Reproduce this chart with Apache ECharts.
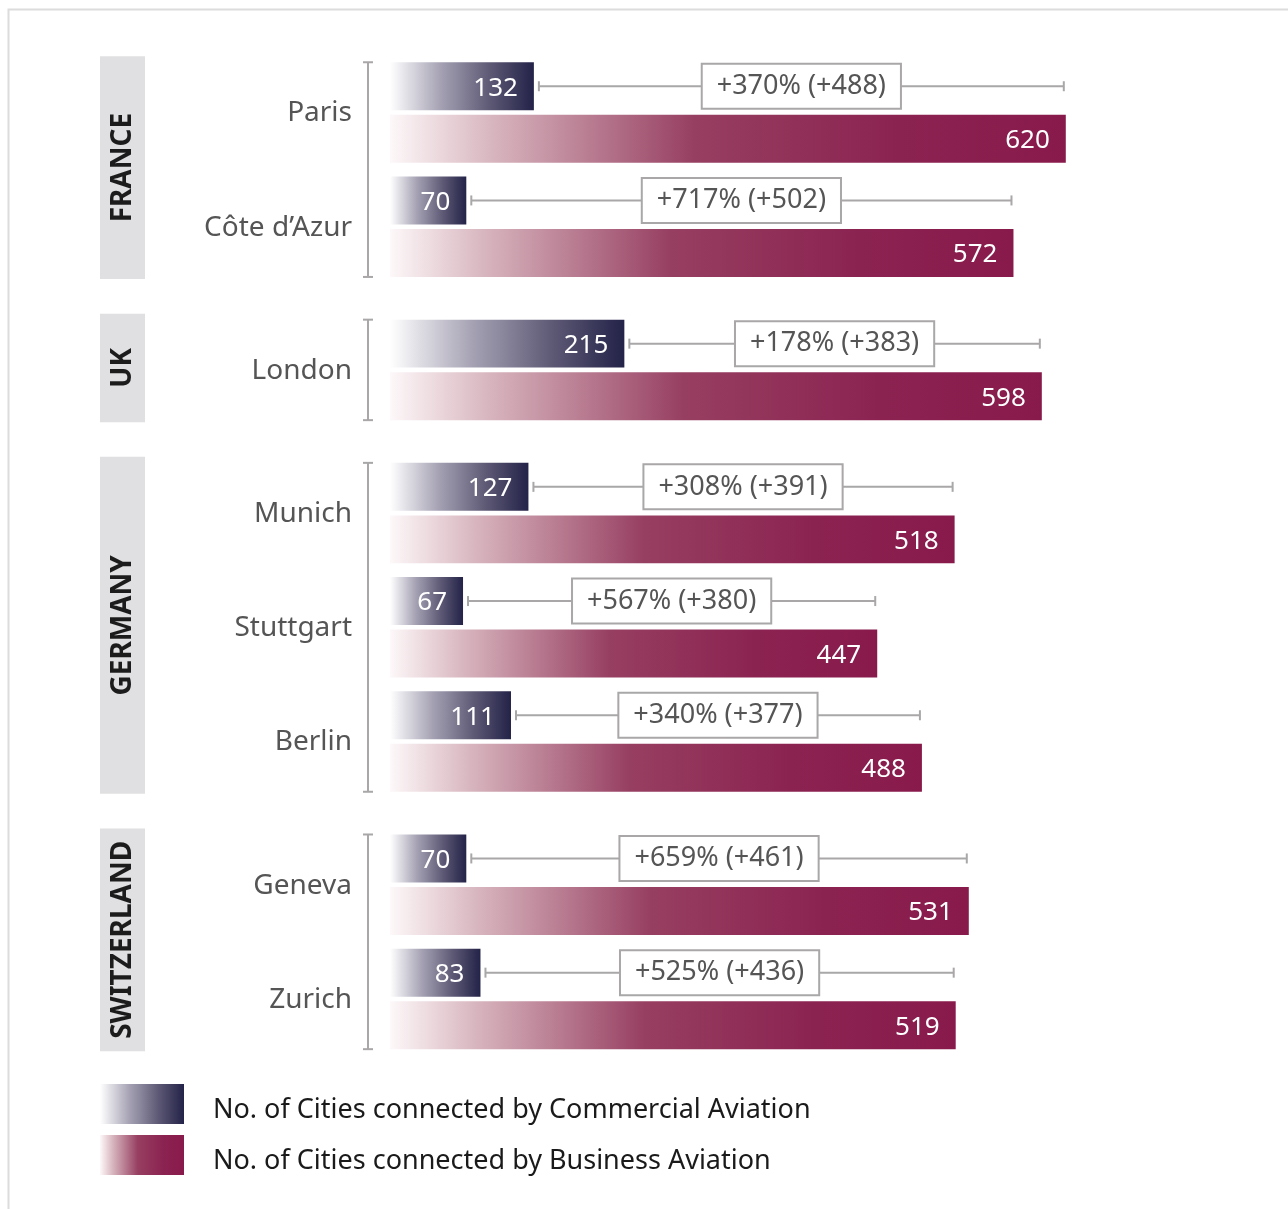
<!DOCTYPE html>
<html>
<head>
<meta charset="utf-8">
<script src="https://cdn.jsdelivr.net/npm/echarts@6/dist/echarts.min.js"></script>
<style>
  html, body { margin: 0; padding: 0; background: #fff; }
  #chart { width: 1288px; height: 1209px; }
</style>
</head>
<body>
<div id="chart"></div>
<script>
// Cities reached from each airport, commercial vs business aviation
const countries = ['FRANCE', 'UK', 'GERMANY', 'SWITZERLAND'];
const cities = ['Paris', 'Côte d\u2019Azur', 'London', 'Munich', 'Stuttgart', 'Berlin', 'Geneva', 'Zurich'];
const cityCountry = [0, 0, 1, 2, 2, 2, 3, 3];
const commercial = [132, 70, 215, 127, 67, 111, 70, 83];
const business = [620, 572, 598, 518, 447, 488, 531, 519];
const seriesNames = [
  'No. of Cities connected by Commercial Aviation',
  'No. of Cities connected by Business Aviation'
];

const FONT = '"Noto Sans", Lato, sans-serif';
const GROUP_GAP = 0.254;   // extra spacing between country groups, in city slots
const BAR_H = 0.42;        // bar thickness, in city slots
const OFFSET = 0.23;       // distance of each bar from the city centre line
const LINE = '#a9a7a8';

// vertical slot of each city: its index plus the gaps of the groups before it
const cityPos = cities.map((c, i) => i + cityCountry[i] * GROUP_GAP);

const commGrad = new echarts.graphic.LinearGradient(0, 0, 1, 0, [
  { offset: 0, color: '#ffffff' },
  { offset: 0.35, color: '#a6a2b4' },
  { offset: 0.7, color: '#5c5874' },
  { offset: 1, color: '#232248' }
]);
const busGrad = new echarts.graphic.LinearGradient(0, 0, 1, 0, [
  { offset: 0, color: '#fdf8f9' },
  { offset: 0.15, color: '#d8b6bf' },
  { offset: 0.45, color: '#973f61' },
  { offset: 0.75, color: '#8b2351' },
  { offset: 1, color: '#881a4b' }
]);

function barRenderer(offset) {
  return function (params, api) {
    const v = api.value(0), p = api.value(1);
    const a = api.coord([0, p]);
    const b = api.coord([v, p]);
    const unit = api.size([0, 1])[1];
    const h = BAR_H * unit;
    const cy = a[1] + offset * unit;
    return {
      type: 'rect',
      shape: { x: a[0], y: cy - h / 2, width: b[0] - a[0], height: h },
      style: api.style(),
      textContent: {
        style: { text: String(v), fill: '#ffffff', font: '26px ' + FONT }
      },
      textConfig: { position: 'insideRight', distance: 16, offset: [0, 2] }
    };
  };
}

// connector from the commercial bar to the business value, with the growth box
function connectorRenderer(params, api) {
  const c = api.value(0), bz = api.value(1), p = api.value(2);
  const unit = api.size([0, 1])[1];
  const y = api.coord([0, p])[1] - OFFSET * unit;
  const x0 = api.coord([c, p])[0] + 5;
  const x1 = api.coord([bz, p])[0] - 2;
  const pct = Math.round((bz - c) / c * 100);
  const txt = '+' + pct + '% (+' + (bz - c) + ')';
  const ls = { stroke: LINE, lineWidth: 2 };
  return {
    type: 'group',
    children: [
      { type: 'line', shape: { x1: x0, y1: y, x2: x1, y2: y }, style: ls },
      { type: 'line', shape: { x1: x0, y1: y - 5, x2: x0, y2: y + 5 }, style: ls },
      { type: 'line', shape: { x1: x1, y1: y - 5, x2: x1, y2: y + 5 }, style: ls },
      {
        type: 'text',
        x: (x0 + x1) / 2, y: y,
        style: {
          text: txt, font: '27px ' + FONT, fill: '#555555',
          align: 'center', verticalAlign: 'middle',
          backgroundColor: '#ffffff', borderColor: LINE, borderWidth: 2,
          padding: [6, 14, 5, 14], lineHeight: 32
        }
      }
    ]
  };
}

// city names to the left of the bars
function cityLabelRenderer(params, api) {
  const p = api.value(0);
  const pt = api.coord([0, p]);
  return {
    type: 'text',
    x: pt[0] - 38, y: pt[1] + 1,
    style: {
      text: cities[params.dataIndex], font: '28px ' + FONT, fill: '#555555',
      align: 'right', verticalAlign: 'middle'
    }
  };
}

// group bracket and the grey country tab
function groupRenderer(params, api) {
  const first = api.value(0), last = api.value(1);
  const unit = api.size([0, 1])[1];
  const top = api.coord([0, first])[1] - 0.44 * unit;
  const bottom = api.coord([0, last])[1] + 0.44 * unit;
  const bx = api.coord([0, first])[0] - 22;
  const ls = { stroke: LINE, lineWidth: 2 };
  const tabTop = top - 6, tabBottom = bottom + 2;
  return {
    type: 'group',
    children: [
      { type: 'line', shape: { x1: bx, y1: top, x2: bx, y2: bottom }, style: ls },
      { type: 'line', shape: { x1: bx - 5, y1: top, x2: bx + 5, y2: top }, style: ls },
      { type: 'line', shape: { x1: bx - 5, y1: bottom, x2: bx + 5, y2: bottom }, style: ls },
      { type: 'rect', shape: { x: 100, y: tabTop, width: 45, height: tabBottom - tabTop }, style: { fill: '#e0e0e2' } },
      {
        type: 'text',
        x: 123, y: (tabTop + tabBottom) / 2,
        rotation: Math.PI / 2,
        style: {
          text: countries[params.dataIndex], font: 'bold 28px ' + FONT, fill: '#1c1c1c',
          align: 'center', verticalAlign: 'middle'
        }
      }
    ]
  };
}

const groups = countries.map((c, g) => {
  const idx = cityCountry.map((cc, i) => cc === g ? i : -1).filter(i => i >= 0);
  return [cityPos[idx[0]], cityPos[idx[idx.length - 1]]];
});

const chart = echarts.init(document.getElementById('chart'), null, { renderer: 'canvas' });
chart.setOption({
  animation: false,
  backgroundColor: '#ffffff',
  graphic: [{
    type: 'rect', left: 6, top: 7, z: -10,
    shape: { width: 1400, height: 1400 },
    style: { fill: 'none', stroke: '#dcdcdc', lineWidth: 2 }
  }],
  grid: { left: 390, right: 135, top: 55.4, bottom: 125.8 },
  xAxis: { type: 'value', min: 0, max: 700, show: false },
  yAxis: { type: 'value', min: -0.5, max: 8.5, inverse: true, show: false },
  legend: {
    data: seriesNames,
    orient: 'vertical', left: 95, top: 1079,
    itemWidth: 84, itemHeight: 40, itemGap: 11,
    icon: 'rect', selectedMode: false,
    formatter: '{t|{name}}',
    textStyle: {
      fontFamily: FONT, fontSize: 27, color: '#1a1a1a',
      rich: { t: { fontFamily: FONT, fontSize: 27, color: '#1a1a1a', padding: [12, 0, 0, 24] } }
    }
  },
  series: [
    {
      name: seriesNames[0], type: 'custom', renderItem: barRenderer(-OFFSET),
      itemStyle: { color: commGrad },
      data: commercial.map((v, i) => [v, cityPos[i]]), z: 3
    },
    {
      name: seriesNames[1], type: 'custom', renderItem: barRenderer(OFFSET),
      itemStyle: { color: busGrad },
      data: business.map((v, i) => [v, cityPos[i]]), z: 3
    },
    {
      name: 'growth', type: 'custom', renderItem: connectorRenderer,
      data: commercial.map((v, i) => [v, business[i], cityPos[i]]), z: 4
    },
    {
      name: 'cities', type: 'custom', renderItem: cityLabelRenderer,
      data: cityPos.map(p => [p]), z: 2
    },
    {
      name: 'countries', type: 'custom', renderItem: groupRenderer,
      data: groups, z: 1
    }
  ]
});
</script>
</body>
</html>
